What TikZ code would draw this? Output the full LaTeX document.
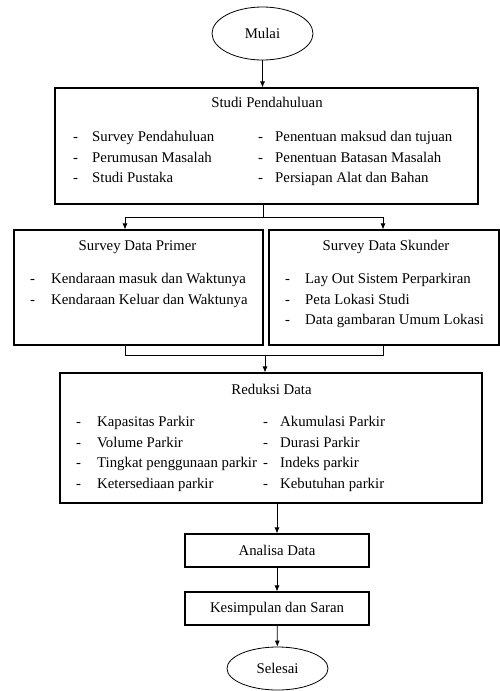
\documentclass[tikz,border=0pt]{standalone}
\usepackage{fontspec}
\setmainfont{Liberation Serif}
\usetikzlibrary{arrows.meta,shapes.geometric}
\tikzset{
  box/.style={draw, line width=1.1pt, inner sep=0, minimum width=#1},
  oval/.style={draw, ellipse, line width=0.8pt, inner sep=0, minimum width=101pt},
  title/.style={anchor=base, inner sep=0},
  item/.style={anchor=base west, inner sep=0},
  arr/.style={-{Latex[length=6pt,width=5pt]}, line width=0.8pt},
  line/.style={line width=0.8pt}
}
\begin{document}
\begin{tikzpicture}[x=1pt, y=-1pt, font=\fontsize{14.8}{17}\selectfont]
\useasboundingbox (0,0) rectangle (500,691);

% start and end
\node[oval, minimum height=53pt] (mulai) at (262.5,33.5) {Mulai};
\node[oval, minimum height=43pt] (selesai) at (277.5,668.5) {Selesai};

% boxes
\node[box=423pt, minimum height=116pt] (studi) at (266.5,146) {};
\node[box=249pt, minimum height=115pt] (primer) at (138.5,287.5) {};
\node[box=230pt, minimum height=115pt] (skunder) at (384,287.5) {};
\node[box=422pt, minimum height=130pt] (reduksi) at (271,438) {};
\node[box=184pt, minimum height=33pt] (analisa) at (277,550.5) {Analisa Data};
\node[box=184pt, minimum height=33pt] (kesimpulan) at (277,608.5) {Kesimpulan dan Saran};

% titles
\node[title] (t-studi) at (267,107) {Studi Pendahuluan};
\node[title] (t-primer) at (137.5,250) {Survey Data Primer};
\node[title] (t-skunder) at (386,250) {Survey Data Skunder};
\node[title] (t-reduksi) at (271.5,394) {Reduksi Data};

% lists
\foreach \t [count=\i] in {Survey Pendahuluan, Perumusan Masalah, Studi Pustaka}{
  \node[item] (sl-d\i) at (73,{137+20.5*(\i-1)+4.5}) {-};
  \node[item] (sl-\i) at (92,{137+20.5*(\i-1)+4.5}) {\t};
}
\foreach \t [count=\i] in {Penentuan maksud dan tujuan, Penentuan Batasan Masalah, Persiapan Alat dan Bahan}{
  \node[item] (sr-d\i) at (258,{137+20.5*(\i-1)+4.5}) {-};
  \node[item] (sr-\i) at (275,{137+20.5*(\i-1)+4.5}) {\t};
}
\foreach \t [count=\i] in {Kendaraan masuk dan Waktunya, Kendaraan Keluar dan Waktunya}{
  \node[item] (p-d\i) at (30,{279+20.5*(\i-1)+4.5}) {-};
  \node[item] (p-\i) at (51,{279+20.5*(\i-1)+4.5}) {\t};
}
\foreach \t [count=\i] in {Lay Out Sistem Perparkiran, Peta Lokasi Studi, Data gambaran Umum Lokasi}{
  \node[item] (k-d\i) at (285,{279+20.5*(\i-1)+4.5}) {-};
  \node[item] (k-\i) at (305,{279+20.5*(\i-1)+4.5}) {\t};
}
\foreach \t [count=\i] in {Kapasitas Parkir, Volume Parkir, Tingkat penggunaan parkir, Ketersediaan parkir}{
  \node[item] (rl-d\i) at (76,{422+20.7*(\i-1)+4.5}) {-};
  \node[item] (rl-\i) at (97,{422+20.7*(\i-1)+4.5}) {\t};
}
\foreach \t [count=\i] in {Akumulasi Parkir, Durasi Parkir, Indeks parkir, Kebutuhan parkir}{
  \node[item] (rr-d\i) at (263,{422+20.7*(\i-1)+4.5}) {-};
  \node[item] (rr-\i) at (280,{422+20.7*(\i-1)+4.5}) {\t};
}

% connectors
\coordinate (split) at (263,217);
\coordinate (pl) at (125,217);
\coordinate (pr) at (383,217);
\coordinate (jl) at (125,355);
\coordinate (jr) at (383,355);
\coordinate (join) at (265,355);

\draw[arr] (mulai.south) -- (mulai.south |- studi.north);
\draw[line] (studi.south -| split) -- (split);
\draw[line] (pl) -- (pr);
\draw[arr] (pl) -- (pl |- primer.north);
\draw[arr] (pr) -- (pr |- skunder.north);
\draw[line] (jl |- primer.south) -- (jl) -- (jr) -- (jr |- skunder.south);
\draw[arr] (join) -- (join |- reduksi.north);
\draw[arr] (reduksi.south -| analisa.north) -- (analisa.north);
\draw[arr] (analisa) -- (kesimpulan);
\draw[arr] (kesimpulan) -- (selesai);
\end{tikzpicture}
\end{document}
